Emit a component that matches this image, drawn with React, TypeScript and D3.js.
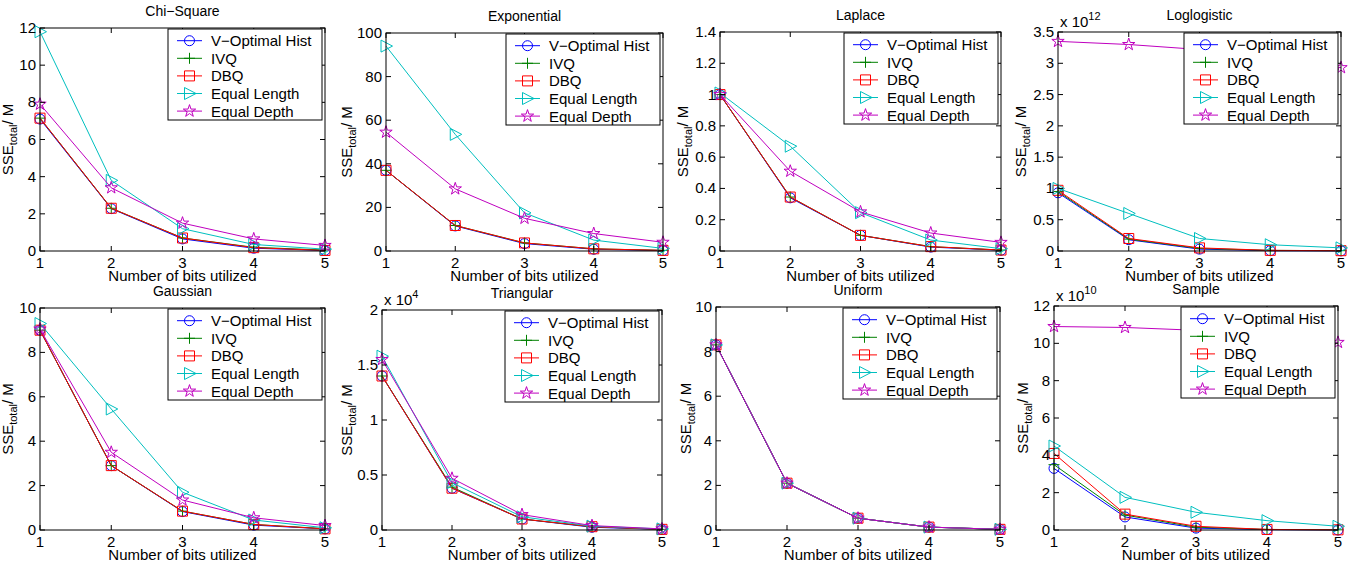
import React from 'react';
import * as d3 from 'd3';

// x values shared by every panel
const bits = [1, 2, 3, 4, 5];
const seriesNames = ['V\u2212Optimal Hist', 'IVQ', 'DBQ', 'Equal Length', 'Equal Depth'];
const seriesColors = ['#0000ff', '#008000', '#ff0000', '#00bfbf', '#bf00bf'];
const markerKinds = ['circle', 'plus', 'square', 'triangle', 'star'];

// rows follow seriesNames order
const chiSquare = [
  [7.1, 2.28, 0.65, 0.15, 0.03],
  [7.15, 2.3, 0.7, 0.2, 0.05],
  [7.15, 2.3, 0.7, 0.18, 0.03],
  [11.8, 3.8, 1.2, 0.35, 0.1],
  [7.9, 3.4, 1.5, 0.65, 0.3],
];
const exponential = [
  [37, 11.5, 3.4, 0.8, 0.2],
  [37, 11.7, 3.7, 1.0, 0.3],
  [37, 11.7, 3.7, 1.0, 0.3],
  [94, 53.5, 17.5, 5, 1.2],
  [54.5, 28.5, 15, 8, 4],
];
const laplace = [
  [1.0, 0.34, 0.1, 0.025, 0.005],
  [1.0, 0.345, 0.1, 0.028, 0.006],
  [1.0, 0.345, 0.1, 0.028, 0.006],
  [1.01, 0.67, 0.245, 0.07, 0.015],
  [1.0, 0.51, 0.25, 0.115, 0.055],
];
const loglogistic = [
  [0.93e12, 0.18e12, 0.03e12, 0.005e12, 0.002e12],
  [0.95e12, 0.19e12, 0.04e12, 0.01e12, 0.005e12],
  [0.97e12, 0.2e12, 0.05e12, 0.01e12, 0.005e12],
  [1.0e12, 0.6e12, 0.2e12, 0.1e12, 0.05e12],
  [3.35e12, 3.3e12, 3.22e12, 3.1e12, 2.93e12],
];
const gaussian = [
  [9.0, 2.9, 0.83, 0.22, 0.05],
  [9.0, 2.9, 0.85, 0.25, 0.06],
  [9.0, 2.9, 0.85, 0.25, 0.05],
  [9.3, 5.45, 1.7, 0.45, 0.1],
  [9.05, 3.5, 1.35, 0.55, 0.2],
];
const triangular = [
  [1.4e4, 0.38e4, 0.1e4, 0.025e4, 0.005e4],
  [1.4e4, 0.39e4, 0.1e4, 0.03e4, 0.006e4],
  [1.4e4, 0.38e4, 0.1e4, 0.03e4, 0.006e4],
  [1.58e4, 0.43e4, 0.12e4, 0.035e4, 0.01e4],
  [1.55e4, 0.47e4, 0.14e4, 0.04e4, 0.01e4],
];
const uniform = [
  [8.3, 2.1, 0.53, 0.13, 0.03],
  [8.3, 2.1, 0.53, 0.13, 0.03],
  [8.3, 2.1, 0.53, 0.13, 0.03],
  [8.3, 2.1, 0.53, 0.13, 0.03],
  [8.3, 2.1, 0.53, 0.13, 0.03],
];
const sample = [
  [3.3e10, 0.7e10, 0.1e10, 0.02e10, 0.0],
  [3.5e10, 0.8e10, 0.15e10, 0.03e10, 0.01e10],
  [4.1e10, 0.85e10, 0.2e10, 0.03e10, 0.01e10],
  [4.5e10, 1.75e10, 0.95e10, 0.5e10, 0.2e10],
  [10.9e10, 10.85e10, 10.7e10, 10.4e10, 10.05e10],
];

const titles = ['Chi\u2212Square', 'Exponential', 'Laplace', 'Loglogistic', 'Gaussian', 'Triangular', 'Uniform', 'Sample'];
const datasets = [chiSquare, exponential, laplace, loglogistic, gaussian, triangular, uniform, sample];
const yMaxes = [12, 100, 1.4, 3.5e12, 10, 2e4, 10, 12e10];
const yTickCounts = [6, 5, 7, 7, 5, 4, 5, 6];
const exponents = [0, 0, 0, 12, 0, 4, 0, 10];

// axes boxes: left, top, right, bottom, y-label offset
const boxes = [
  [40, 28, 325, 251, 27],
  [386, 33, 663, 251, 34],
  [720, 32, 1001, 251, 32],
  [1058, 32, 1341, 251, 32],
  [40, 308, 325, 530, 27],
  [382, 310, 662, 530, 30],
  [716, 307, 1000, 530, 25],
  [1054, 306, 1338, 530, 26],
];

const font = 'Liberation Sans, Arial, Helvetica, sans-serif';

function markerPath(kind, cx, cy) {
  if (kind === 'circle') {
    const r = 5;
    return `M${cx - r},${cy}a${r},${r} 0 1,0 ${2 * r},0a${r},${r} 0 1,0 ${-2 * r},0Z`;
  }
  if (kind === 'plus') {
    return `M${cx - 5.5},${cy}H${cx + 5.5}M${cx},${cy - 5.5}V${cy + 5.5}`;
  }
  if (kind === 'square') {
    return `M${cx - 5},${cy - 5}h10v10h-10Z`;
  }
  if (kind === 'triangle') {
    return `M${cx - 5},${cy - 6}L${cx + 6.5},${cy}L${cx - 5},${cy + 6}Z`;
  }
  // pentagram
  const R = 6.5, r = R * 0.382;
  const pts = d3.range(10).map(i => {
    const a = -Math.PI / 2 + (i * Math.PI) / 5;
    const rr = i % 2 === 0 ? R : r;
    return [cx + rr * Math.cos(a), cy + rr * Math.sin(a)];
  });
  return 'M' + pts.map(p => p.join(',')).join('L') + 'Z';
}

function Panel({ idx }) {
  const [l, t, r, b, ylOff] = boxes[idx];
  const data = datasets[idx];
  const yMax = yMaxes[idx];
  const exp = exponents[idx];
  const x = d3.scaleLinear().domain([1, 5]).range([l, r]);
  const y = d3.scaleLinear().domain([0, yMax]).range([b, t]);
  const n = yTickCounts[idx];
  const yTicks = d3.range(n + 1).map(i => (i * yMax) / n);
  const fmt = v => String(+(v / Math.pow(10, exp)).toFixed(2));
  const line = d3.line().x((d, i) => x(bits[i])).y(d => y(d));
  const tl = 5;

  const legW = 154, legH = 91;
  const legX = r - 3 - legW, legY = t + 1;

  return (
    <g fontFamily={font}>
      <rect x={l} y={t} width={r - l} height={b - t} fill="#fff" stroke="none" />
      {data.map((vals, s) => (
        <g key={s}>
          <path d={line(vals)} fill="none" stroke={seriesColors[s]} strokeWidth={1} />
          {vals.map((v, i) => (
            <path key={i} d={markerPath(markerKinds[s], x(bits[i]), y(v))} fill="none" stroke={seriesColors[s]} strokeWidth={1} />
          ))}
        </g>
      ))}
      <rect x={l} y={t} width={r - l} height={b - t} fill="none" stroke="#000" strokeWidth={1} />
      {yTicks.map((v, i) => (
        <g key={'y' + i}>
          <line x1={l} x2={l + tl} y1={y(v)} y2={y(v)} stroke="#000" />
          <line x1={r} x2={r - tl} y1={y(v)} y2={y(v)} stroke="#000" />
          <text x={l - 4} y={y(v) + 5} fontSize={15} textAnchor="end">{fmt(v)}</text>
        </g>
      ))}
      {bits.map(v => (
        <g key={'x' + v}>
          <line x1={x(v)} x2={x(v)} y1={b} y2={b - tl} stroke="#000" />
          <line x1={x(v)} x2={x(v)} y1={t} y2={t + tl} stroke="#000" />
          <text x={x(v)} y={b + 17} fontSize={15} textAnchor="middle">{v}</text>
        </g>
      ))}
      <text x={(l + r) / 2} y={b + 30} fontSize={15} textAnchor="middle">Number of bits utilized</text>
      <text x={(l + r) / 2} y={t - 12} fontSize={14} textAnchor="middle">{titles[idx]}</text>
      <text transform={`translate(${l - ylOff},${(t + b) / 2}) rotate(-90)`} fontSize={15} textAnchor="middle">
        SSE<tspan fontSize={11} dy={4}>total</tspan><tspan dy={-4}>/ M</tspan>
      </text>
      {exp > 0 && (
        <text x={l + 2} y={t - 5} fontSize={15}>
          x 10<tspan fontSize={11} dy={-7}>{exp}</tspan>
        </text>
      )}
      <g>
        <rect x={legX} y={legY} width={legW} height={legH} fill="#fff" stroke="#000" strokeWidth={1} />
        {seriesNames.map((name, s) => {
          const cy = legY + 11.7 + s * 17.6;
          return (
            <g key={name}>
              <line x1={legX + 9} x2={legX + 34} y1={cy} y2={cy} stroke={seriesColors[s]} />
              <path d={markerPath(markerKinds[s], legX + 21.5, cy)} fill="none" stroke={seriesColors[s]} />
              <text x={legX + 43} y={cy + 5.5} fontSize={15}>{name}</text>
            </g>
          );
        })}
      </g>
    </g>
  );
}

export default function App() {
  return (
    <svg width={1356} height={567} style={{ position: 'absolute', left: 0, top: 0, background: '#fff' }}>
      <rect width={1356} height={567} fill="#fff" />
      {titles.map((tt, i) => <Panel key={tt} idx={i} />)}
    </svg>
  );
}
